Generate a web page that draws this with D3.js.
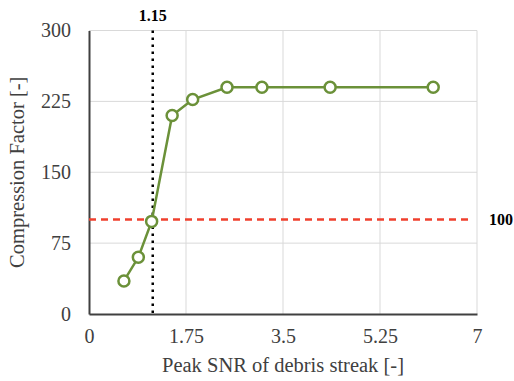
<!DOCTYPE html>
<html>
<head>
<meta charset="utf-8">
<title>Compression Factor vs Peak SNR</title>
<script src="https://unpkg.com/d3@7.8.2/dist/d3.min.js"></script>
<style>
  body { margin: 0; background: #fff; }
</style>
</head>
<body>
<div id="chart"></div>
<script>
// data
const snr = [0.63, 0.89, 1.13, 1.50, 1.87, 2.49, 3.12, 4.35, 6.21];
const compression = [35, 60, 98, 210, 227, 240, 240, 240, 240];
const xTicks = [0, 1.75, 3.5, 5.25, 7];
const yTicks = [0, 75, 150, 225, 300];
const snrThreshold = 1.15;
const cfThreshold = 100;

const FONT = "'Liberation Serif', 'Times New Roman', serif";
const W = 514, H = 381;
const margin = { top: 30.5, right: 37, bottom: 67, left: 89 };

const svg = d3.select("#chart").append("svg")
  .attr("width", W).attr("height", H);

const x = d3.scaleLinear().domain([0, 7]).range([margin.left, W - margin.right]);
const y = d3.scaleLinear().domain([0, 300]).range([H - margin.bottom, margin.top]);

// gridlines
svg.append("g").selectAll("line")
  .data(yTicks.filter(d => d > 0))
  .enter().append("line")
  .attr("x1", x(0)).attr("x2", x(7))
  .attr("y1", d => y(d)).attr("y2", d => y(d))
  .attr("stroke", "#d9d9d9").attr("stroke-width", 1);

svg.append("g").selectAll("line")
  .data(xTicks.filter(d => d > 0))
  .enter().append("line")
  .attr("x1", d => x(d)).attr("x2", d => x(d))
  .attr("y1", y(0)).attr("y2", y(300))
  .attr("stroke", "#d9d9d9").attr("stroke-width", 1);

// axes
const xAxis = svg.append("g")
  .attr("transform", `translate(0,${y(0)})`)
  .call(d3.axisBottom(x).tickValues(xTicks).tickSize(0).tickPadding(15)
    .tickFormat(d => d3.format("")(d)));
xAxis.attr("font-family", FONT).attr("font-size", 20);
xAxis.select(".domain").attr("stroke", "#404040").attr("stroke-width", 2);
xAxis.selectAll("text").attr("fill", "#404040");

const yAxis = svg.append("g")
  .attr("transform", `translate(${x(0)},0)`)
  .call(d3.axisLeft(y).tickValues(yTicks).tickSize(0).tickPadding(18));
yAxis.attr("font-family", FONT).attr("font-size", 20);
yAxis.select(".domain").attr("stroke", "#404040").attr("stroke-width", 2);
yAxis.selectAll("text").attr("fill", "#404040");

// reference lines
svg.append("line")
  .attr("x1", x(0)).attr("x2", x(6.9))
  .attr("y1", y(cfThreshold)).attr("y2", y(cfThreshold))
  .attr("stroke", "#f0402e").attr("stroke-width", 2.5)
  .attr("stroke-dasharray", "7,5");

svg.append("line")
  .attr("x1", x(snrThreshold)).attr("x2", x(snrThreshold))
  .attr("y1", y(300)).attr("y2", y(0))
  .attr("stroke", "#000").attr("stroke-width", 2.5)
  .attr("stroke-dasharray", "2.5,4.5");

svg.append("text")
  .attr("x", x(snrThreshold)).attr("y", 21)
  .attr("text-anchor", "middle").attr("font-family", FONT)
  .attr("font-size", 16).attr("font-weight", "bold")
  .text(snrThreshold.toFixed(2));

svg.append("text")
  .attr("x", 489).attr("y", y(cfThreshold) + 5.5)
  .attr("font-family", FONT)
  .attr("font-size", 16).attr("font-weight", "bold")
  .text(cfThreshold);

// series
const pts = snr.map((v, i) => ({ x: v, y: compression[i] }));
svg.append("path")
  .datum(pts)
  .attr("fill", "none")
  .attr("stroke", "#6b9139").attr("stroke-width", 2.5)
  .attr("d", d3.line().x(d => x(d.x)).y(d => y(d.y)));

svg.selectAll("circle.pt")
  .data(pts).enter().append("circle")
  .attr("cx", d => x(d.x)).attr("cy", d => y(d.y))
  .attr("r", 5.5)
  .attr("fill", "#fff").attr("stroke", "#6b9139").attr("stroke-width", 2.5);

// axis titles
svg.append("text")
  .attr("x", (x(0) + x(7)) / 2).attr("y", 372)
  .attr("text-anchor", "middle").attr("font-family", FONT)
  .attr("font-size", 20.5).attr("fill", "#404040")
  .text("Peak SNR of debris streak [-]");

svg.append("text")
  .attr("transform", `translate(24,${(y(0) + y(300)) / 2}) rotate(-90)`)
  .attr("text-anchor", "middle").attr("font-family", FONT)
  .attr("font-size", 20.5).attr("fill", "#404040")
  .text("Compression Factor [-]");
</script>
</body>
</html>
